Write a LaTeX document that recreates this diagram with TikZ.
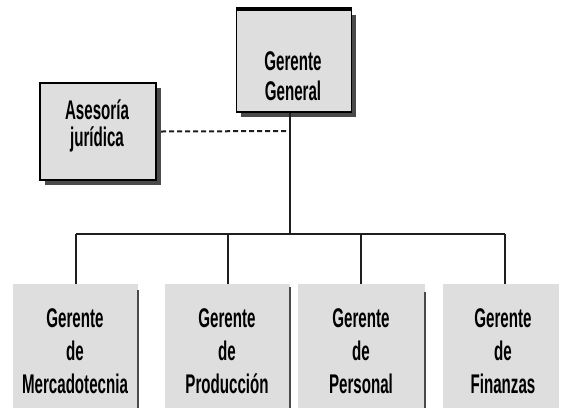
\documentclass[tikz,border=0pt]{standalone}
\usepackage{fontspec}
\setmainfont[FakeStretch=0.56]{Liberation Sans}
\usetikzlibrary{shadows}
\definecolor{boxgray}{HTML}{DEDEDE}
\definecolor{shadowgray}{HTML}{4A4A4A}
\definecolor{linegray}{HTML}{1E1E1E}
\begin{document}
\begin{tikzpicture}[x=1pt,y=-1pt,
  box/.style={fill=boxgray, draw=black, line width=1.3pt, inner sep=0pt,
    drop shadow={shadow xshift=4.5pt, shadow yshift=-5pt, fill=shadowgray, opacity=1}},
  unit/.style={fill=boxgray, inner sep=0pt},
  lbl/.style={align=center, inner sep=0pt, font=\bfseries\fontsize{27}{#1}\selectfont},
  lbl/.default=30,
  link/.style={draw=linegray, line width=1.8pt},
  staff/.style={draw=linegray, line width=2pt, dash pattern=on 5pt off 3pt},
  edge/.style={draw=shadowgray, line width=2pt}
]
\useasboundingbox (0,0) rectangle (561,408);

% top management and advisory boxes
\node[box, minimum width=115pt, minimum height=102pt] (gg) at (294,61) {};
\draw[line width=4pt] (gg.north west) -- (gg.north east);
\node[lbl=30] (ggl) at (293,76) {Gerente\\General};

\node[box, minimum width=116pt, minimum height=97pt] (ase) at (98,131.5) {};
\node[lbl=27] (asel) at (97,126) {Asesoría\\jurídica};

% department boxes
\node[unit, minimum width=125pt, minimum height=124pt] (u1) at (75,346) {};
\node[unit, minimum width=125pt, minimum height=124pt] (u2) at (227,346) {};
\node[unit, minimum width=127pt, minimum height=124pt] (u3) at (361,346) {};
\node[unit, minimum width=116pt, minimum height=124pt] (u4) at (501,346) {};
\draw[edge] ([yshift=-6pt]u1.north east) -- (u1.south east);
\draw[edge] ([yshift=-3pt]u2.north east) -- (u2.south east);
\draw[edge] ([yshift=-8pt]u3.north east) -- (u3.south east);

\node[lbl=33] (u1l) at (75,351) {Gerente\\de\\Mercadotecnia};
\node[lbl=33] (u2l) at (227,351) {Gerente\\de\\Producción};
\node[lbl=33] (u3l) at (361,351) {Gerente\\de\\Personal};
\node[lbl=33] (u4l) at (503,351) {Gerente\\de\\Finanzas};

% connectors
\coordinate (t) at (290,131);
\coordinate (bar) at (290,234);
\coordinate (d1) at (76,234);
\coordinate (d2) at (228,234);
\coordinate (d3) at (361,234);
\coordinate (d4) at (505,234);
\draw[link] (gg.south -| t) -- (bar);
\draw[staff] ([xshift=4.5pt]ase.east) -- (t);
\draw[link] (d1) -- (d4);
\draw[link] (d1) -- (d1 |- u1.north);
\draw[link] (d2) -- (d2 |- u2.north);
\draw[link] (d3) -- (d3 |- u3.north);
\draw[link] (d4) -- (d4 |- u4.north);
\end{tikzpicture}
\end{document}
